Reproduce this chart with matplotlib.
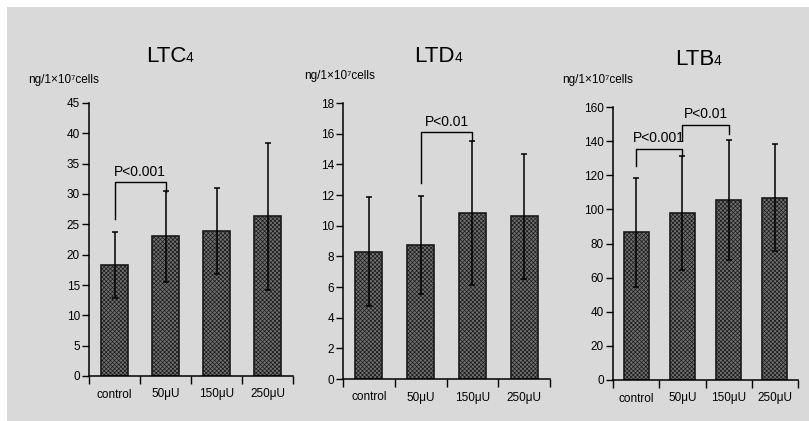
import matplotlib
matplotlib.use("Agg")
import matplotlib.pyplot as plt
from matplotlib.patches import Rectangle
import numpy as np

plt.rcParams["font.family"] = ["Liberation Sans", "DejaVu Sans"]
plt.rcParams["hatch.linewidth"] = 0.5
plt.rcParams["hatch.color"] = "#3a3a3a"

groups = ["control", "50μU", "150μU", "250μU"]

ltc4_mean = [18.3, 23.0, 23.9, 26.3]
ltc4_sd = [5.45, 7.45, 7.1, 12.1]

ltd4_mean = [8.3, 8.75, 10.8, 10.6]
ltd4_sd = [3.55, 3.2, 4.7, 4.1]

ltb4_mean = [86.6, 97.7, 105.4, 106.9]
ltb4_sd = [32.0, 33.3, 35.2, 31.2]

W, H = 809, 421
fig = plt.figure(figsize=(W / 100, H / 100), dpi=100)
fig.patch.set_facecolor("white")
fig.patches.append(Rectangle((7 / W, 0), 1, (H - 7) / H, transform=fig.transFigure,
                             facecolor="#d9d9d9", edgecolor="none", zorder=-10))


def px_axes(x0, x1, y_bot, y_top):
    return fig.add_axes([x0 / W, (H - y_bot) / H, (x1 - x0) / W, (y_bot - y_top) / H])


def panel(ax, mean, sd, ymax, ystep, bw):
    x = np.arange(len(groups))
    ax.bar(x, mean, width=bw, color="#707070", edgecolor="#1a1a1a", linewidth=1.2,
           hatch="xxxxxxxx", zorder=2)
    ax.errorbar(x, mean, yerr=sd, fmt="none", ecolor="black", elinewidth=1.1,
                capsize=2.0, capthick=1.1, zorder=3)
    ax.set_xlim(-0.5, len(groups) - 0.5)
    ax.set_ylim(0, ymax)
    ax.set_facecolor("none")
    for s in ["top", "right"]:
        ax.spines[s].set_visible(False)
    ax.spines["left"].set_linewidth(1.1)
    ax.spines["bottom"].set_linewidth(1.1)
    ax.set_yticks(np.arange(0, ymax + ystep / 2, ystep))
    ax.tick_params(axis="y", direction="out", length=5, width=1, pad=1.5, labelsize=8.5)
    ax.set_xticks(x)
    ax.set_xticklabels(groups, fontsize=8.5)
    ax.tick_params(axis="x", length=0, pad=9)
    ax.set_xticks(np.arange(-0.5, len(groups)), minor=True)
    ax.tick_params(axis="x", which="minor", direction="out", length=6, width=1)


def bracket(ax, x0, x1, y, y0, y1, label):
    ax.plot([x0, x0, x1, x1], [y0, y, y, y1], color="black", lw=1.0, zorder=4)
    ax.annotate(label, ((x0 + x1) / 2, y), xytext=(0, 2.5), textcoords="offset points",
                ha="center", va="bottom", fontsize=10)


def title(xc, yc, name):
    fig.text(xc / W, 1 - yc / H, name, fontsize=16, ha="right", va="baseline")
    fig.text(xc / W, 1 - yc / H, "4", fontsize=10, ha="left", va="baseline")


ax1 = px_axes(89, 293, 376, 103)
panel(ax1, ltc4_mean, ltc4_sd, 45, 5, 0.53)
bracket(ax1, 0, 1, 31.9, 25.8, 30.4, "P<0.001")

ax2 = px_axes(343, 550, 379, 103)
panel(ax2, ltd4_mean, ltd4_sd, 18, 2, 0.52)
bracket(ax2, 1, 2, 16.1, 12.8, 15.5, "P<0.01")

ax3 = px_axes(613, 798, 380, 107)
panel(ax3, ltb4_mean, ltb4_sd, 160, 20, 0.54)
bracket(ax3, 0, 1, 135.6, 125.3, 131.0, "P<0.001")
bracket(ax3, 1, 2, 149.7, 140.5, 143.9, "P<0.01")

title(186, 62, "LTC")
title(455, 62, "LTD")
title(714, 65, "LTB")

unit = "ng/1×10⁷cells"
fig.text(28 / W, 1 - 80 / H, unit, fontsize=8.5, va="center", ha="left")
fig.text(304 / W, 1 - 76 / H, unit, fontsize=8.5, va="center", ha="left")
fig.text(562 / W, 1 - 80 / H, unit, fontsize=8.5, va="center", ha="left")

fig.savefig("out.png", dpi=100, facecolor=fig.get_facecolor())
